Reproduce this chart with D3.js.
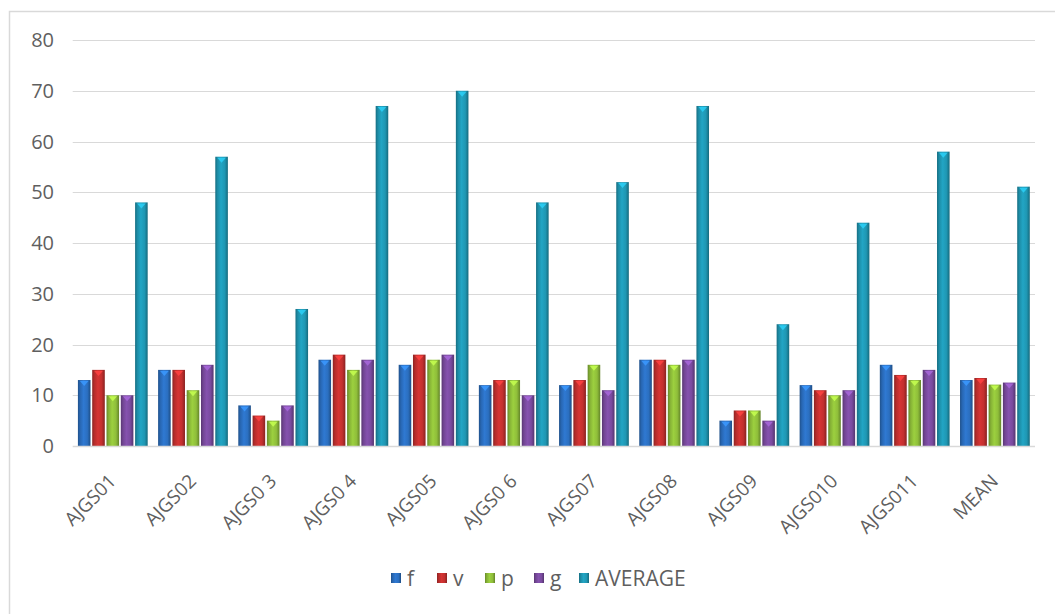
<!DOCTYPE html>
<html>
<head>
<meta charset="utf-8">
<script src="https://cdn.jsdelivr.net/npm/d3@7"></script>
<style>
  html, body { margin: 0; padding: 0; background: #ffffff; }
  svg { display: block; }
  text { font-family: "Open Sans", "Noto Sans", sans-serif; fill: #5f5f5f; }
</style>
</head>
<body>
<svg id="chart" width="1055" height="614"></svg>
<script>
// Sample groups and series
const categories = ["AJGS01", "AJGS02", "AJGS0 3", "AJGS0 4", "AJGS05", "AJGS0 6",
                    "AJGS07", "AJGS08", "AJGS09", "AJGS010", "AJGS011", "MEAN"];
const seriesNames = ["f", "v", "p", "g", "AVERAGE"];
const fValues   = [13, 15, 8, 17, 16, 12, 12, 17, 5, 12, 16, 13.0];
const vValues   = [15, 15, 6, 18, 18, 13, 13, 17, 7, 11, 14, 13.4];
const pValues   = [10, 11, 5, 15, 17, 13, 16, 16, 7, 10, 13, 12.1];
const gValues   = [10, 16, 8, 17, 18, 10, 11, 17, 5, 11, 15, 12.5];
const avgValues = [48, 57, 27, 67, 70, 48, 52, 67, 24, 44, 58, 51.1];
const yTicks = [0, 10, 20, 30, 40, 50, 60, 70, 80];

const seriesValues = [fValues, vValues, pValues, gValues, avgValues];
const colors = ["#2b6fc0", "#c3302f", "#8fbe3a", "#7a4b9f", "#1f97b3"];

const svg = d3.select("#chart");
const plot = { left: 72.7, right: 1035, top: 40, bottom: 446 };

// chart frame
svg.append("rect")
  .attr("x", 9.5).attr("y", 11.5)
  .attr("width", 1100).attr("height", 700)
  .attr("fill", "#ffffff")
  .attr("stroke", "#d9d9d9").attr("stroke-width", 1.5);

const x0 = d3.scaleBand()
  .domain(categories)
  .range([plot.left, plot.right])
  .paddingInner(0.13)
  .paddingOuter(0.065);

const x1 = d3.scaleBand()
  .domain(seriesNames)
  .range([0, x0.bandwidth()])
  .paddingInner(0.12);

const y = d3.scaleLinear().domain([0, 80]).range([plot.bottom, plot.top]);

// gradients giving the bars a rounded, shaded look
const defs = svg.append("defs");
seriesNames.forEach((name, i) => {
  const c = d3.color(colors[i]);
  const g = defs.append("linearGradient")
    .attr("id", "grad" + i)
    .attr("x1", "0%").attr("x2", "100%").attr("y1", "0%").attr("y2", "0%");
  g.append("stop").attr("offset", "0%").attr("stop-color", c.darker(0.9));
  g.append("stop").attr("offset", "18%").attr("stop-color", c.darker(0.2));
  g.append("stop").attr("offset", "45%").attr("stop-color", c.brighter(0.25));
  g.append("stop").attr("offset", "75%").attr("stop-color", c);
  g.append("stop").attr("offset", "100%").attr("stop-color", c.darker(1.0));
});

// gridlines
svg.append("g")
  .selectAll("line")
  .data(yTicks.filter(t => t > 0))
  .join("line")
  .attr("x1", plot.left).attr("x2", plot.right)
  .attr("y1", d => Math.round(y(d)) + 0.5).attr("y2", d => Math.round(y(d)) + 0.5)
  .attr("stroke", "#d9d9d9").attr("stroke-width", 1.2);

// y-axis labels
svg.append("g")
  .selectAll("text")
  .data(yTicks)
  .join("text")
  .attr("x", 54)
  .attr("y", d => y(d))
  .attr("dy", "0.36em")
  .attr("text-anchor", "end")
  .attr("font-size", 20)
  .text(d => d);

// bars
const groups = svg.append("g")
  .selectAll("g")
  .data(categories)
  .join("g")
  .attr("transform", d => `translate(${x0(d)},0)`);

groups.each(function (cat, ci) {
  const gsel = d3.select(this);
  seriesNames.forEach((name, si) => {
    const v = seriesValues[si][ci];
    const bx = x1(name), bw = x1.bandwidth();
    const by = y(v), bh = y(0) - y(v);
    gsel.append("rect")
      .attr("x", bx).attr("y", by)
      .attr("width", bw).attr("height", bh)
      .attr("fill", `url(#grad${si})`);
    // bevelled top
    const c = d3.color(colors[si]);
    gsel.append("path")
      .attr("d", `M${bx + 2},${by + 1} L${bx + bw - 2},${by + 1} L${bx + bw / 2},${by + 6} Z`)
      .attr("fill", c.brighter(0.9))
      .attr("opacity", 0.85);
  });
});

// baseline
svg.append("line")
  .attr("x1", plot.left).attr("x2", plot.right)
  .attr("y1", plot.bottom + 0.5).attr("y2", plot.bottom + 0.5)
  .attr("stroke", "#d9d9d9").attr("stroke-width", 1.5);

// category labels
svg.append("g")
  .selectAll("text")
  .data(categories)
  .join("text")
  .attr("transform", d => `translate(${x0(d) + x0.bandwidth() / 2 - 5},${plot.bottom + 27}) rotate(-45)`)
  .attr("text-anchor", "end")
  .attr("dy", "0.7em")
  .attr("font-size", 19)
  .text(d => d);

// legend
const legend = svg.append("g").attr("transform", "translate(0,578)");
const legendX = [391, 437, 485, 534, 579];
seriesNames.forEach((name, i) => {
  const item = legend.append("g").attr("transform", `translate(${legendX[i]},0)`);
  item.append("rect")
    .attr("x", 0).attr("y", -5)
    .attr("width", 10).attr("height", 10)
    .attr("fill", `url(#grad${i})`);
  item.append("text")
    .attr("x", 16).attr("y", 0)
    .attr("dy", "0.36em")
    .attr("font-size", 21)
    .text(name);
});
</script>
</body>
</html>
